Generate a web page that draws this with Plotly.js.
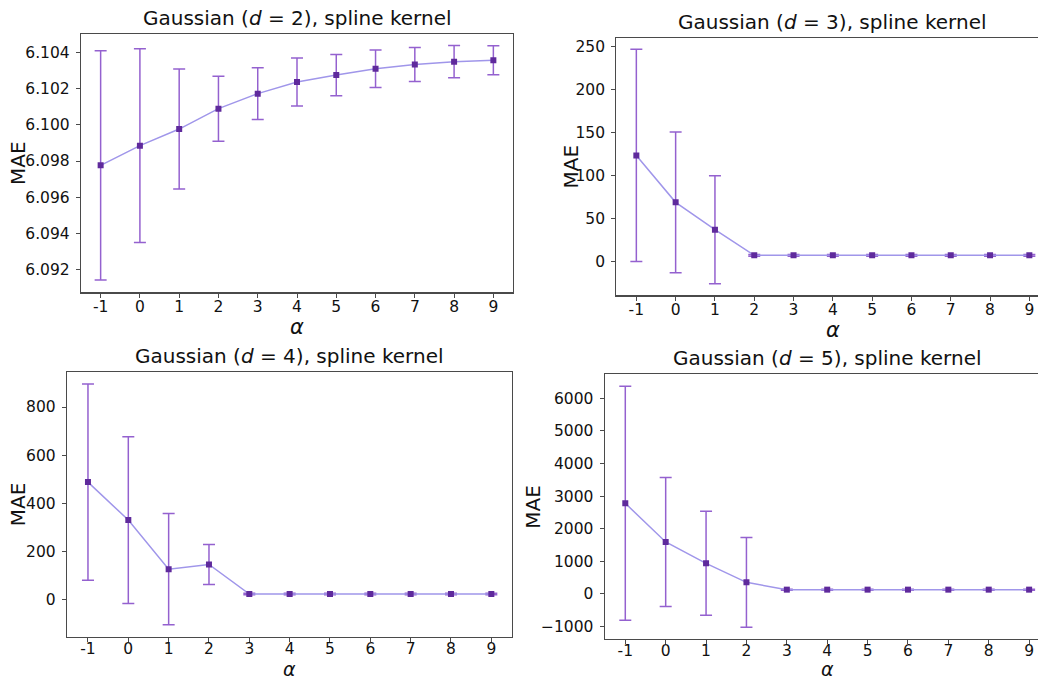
<!DOCTYPE html>
<html>
<head>
<meta charset="utf-8">
<script src="https://cdn.plot.ly/plotly-3.0.1.min.js"></script>
<style>html,body{margin:0;padding:0;background:#fff;}#chart{width:1038px;height:681px;}</style>
</head>
<body>
<div id="chart"></div>
<script>
const alpha = [-1, 0, 1, 2, 3, 4, 5, 6, 7, 8, 9];
const alphaLabels = ["-1", "0", "1", "2", "3", "4", "5", "6", "7", "8", "9"];

const maeD2 = [6.09776, 6.09885, 6.09977, 6.10090, 6.10173, 6.10238, 6.10276, 6.10311, 6.10334, 6.10350, 6.10358];
const errD2 = [0.00635, 0.00536, 0.00332, 0.00180, 0.00143, 0.00133, 0.00114, 0.00104, 0.00094, 0.00089, 0.00080];

const maeD3 = [123.6, 69.0, 37.2, 7.4, 7.4, 7.4, 7.4, 7.4, 7.4, 7.4, 7.4];
const errD3 = [123.5, 81.8, 62.8, 1.0, 1.0, 1.0, 1.0, 1.0, 1.0, 1.0, 1.0];

const maeD4 = [488, 330, 126, 145.6, 22.2, 22.2, 22.2, 22.2, 22.2, 22.2, 22.2];
const errD4 = [408, 347, 231.4, 83.2, 3, 3, 3, 3, 3, 3, 3];

const maeD5 = [2780, 1595, 940, 358, 133, 133, 133, 133, 133, 133, 133];
const errD5 = [3588, 1978, 1594, 1374, 15, 15, 15, 15, 15, 15, 15];

const dims = [2, 3, 4, 5];

const W = 1038, H = 681;
const FONT = "DejaVu Sans, Liberation Sans, sans-serif";
const LINE_COLOR = "#a096ea";
const MARKER_COLOR = "#5f2a9c";
const ERR_COLOR = "#9461cf";
const AXIS_COLOR = "#4a4a4a";

// panel pixel boxes [left, top, right, bottom]
const boxes = [
  [81, 33.7, 513, 292.3],
  [616.3, 37.7, 1038, 295.3],
  [67, 371.7, 511.7, 636.7],
  [604.7, 374.3, 1038, 639]
];
const clipped = [false, true, false, true];
const xRanges = [[-1.5, 9.5], [-1.51, 9.22], [-1.52, 9.505], [-1.51, 9.22]];
const yRanges = [[6.09073, 6.10505], [-39.1, 260.5], [-155, 947], [-1380, 6736]];
const yDticks = [0.002, 50, 200, 1000];
const yFormats = [".3f", "", "", ""];
const series = [[maeD2, errD2], [maeD3, errD3], [maeD4, errD4], [maeD5, errD5]];
const titleCenters = [297, 832.7, 289, 827];
const alphaCenters = [297, 832.7, 289, 827];
const alphaY = [327, 330, null, null];
const maeX = [18, 570, 18, 533];

const traces = [];
const layout = {
  width: W, height: H,
  margin: {l: 0, r: 0, t: 0, b: 0},
  paper_bgcolor: "#fff", plot_bgcolor: "#fff",
  showlegend: false,
  font: {family: FONT, color: "#000", size: 15},
  annotations: []
};

boxes.forEach((b, i) => {
  const n = i + 1;
  const xa = "xaxis" + (n === 1 ? "" : n);
  const ya = "yaxis" + (n === 1 ? "" : n);
  const xr = "x" + (n === 1 ? "" : n);
  const yr = "y" + (n === 1 ? "" : n);
  traces.push({
    type: "scatter", mode: "lines+markers",
    x: alpha, y: series[i][0],
    xaxis: xr, yaxis: yr,
    line: {color: LINE_COLOR, width: 1.5},
    marker: {symbol: "square", size: 6, color: MARKER_COLOR},
    error_y: {type: "data", array: series[i][1], visible: true, color: ERR_COLOR, thickness: 1.5, width: 6}
  });
  layout[xa] = {
    domain: [b[0] / W, b[2] / W],
    anchor: yr,
    range: xRanges[i],
    tickmode: "array", tickvals: alpha, ticktext: alphaLabels,
    showgrid: false, zeroline: false,
    showline: true, mirror: true, linecolor: AXIS_COLOR, linewidth: 1.2,
    ticks: "outside", ticklen: 4, tickcolor: AXIS_COLOR,
    ticklabelstandoff: i < 2 ? -4 : -7,
    tickfont: {size: 15.5, family: FONT, color: "#111"}
  };
  layout[ya] = {
    domain: [1 - b[3] / H, 1 - b[1] / H],
    anchor: xr,
    range: yRanges[i],
    dtick: yDticks[i], tick0: 0,
    tickformat: yFormats[i],
    showgrid: false, zeroline: false,
    showline: true, mirror: !clipped[i], linecolor: AXIS_COLOR, linewidth: 1.2,
    ticks: "outside", ticklen: 4, tickcolor: AXIS_COLOR,
    ticklabelstandoff: 3,
    tickfont: {size: 15.5, family: FONT, color: "#111"}
  };
  layout.annotations.push({
    xref: "paper", yref: "paper",
    x: titleCenters[i] / W, y: 1 - b[1] / H, yshift: 2,
    xanchor: "center", yanchor: "bottom", showarrow: false,
    text: "Gaussian (<i>d</i> = " + dims[i] + "), spline kernel",
    font: {size: 20, family: FONT, color: "#111"}
  });
  if (alphaY[i] !== null) {
    layout.annotations.push({
      xref: "paper", yref: "paper",
      x: alphaCenters[i] / W, y: 1 - alphaY[i] / H,
      xanchor: "center", yanchor: "middle", showarrow: false,
      text: "<i>α</i>",
      font: {size: 21, family: FONT, color: "#111"}
    });
  } else {
    layout.annotations.push({
      xref: "paper", yref: "paper",
      x: alphaCenters[i] / W, y: 0, yshift: 0,
      xanchor: "center", yanchor: "bottom", showarrow: false,
      borderpad: 0,
      text: "<i>α</i>",
      font: {size: 19, family: FONT, color: "#111"}
    });
  }
  layout.annotations.push({
    xref: "paper", yref: "paper",
    x: maeX[i] / W, y: 1 - ((b[1] + b[3]) / 2) / H,
    xanchor: "center", yanchor: "middle", showarrow: false,
    textangle: -90,
    text: "MAE",
    font: {size: 20, family: FONT, color: "#111"}
  });
});

Plotly.newPlot("chart", traces, layout, {staticPlot: true});
</script>
</body>
</html>
